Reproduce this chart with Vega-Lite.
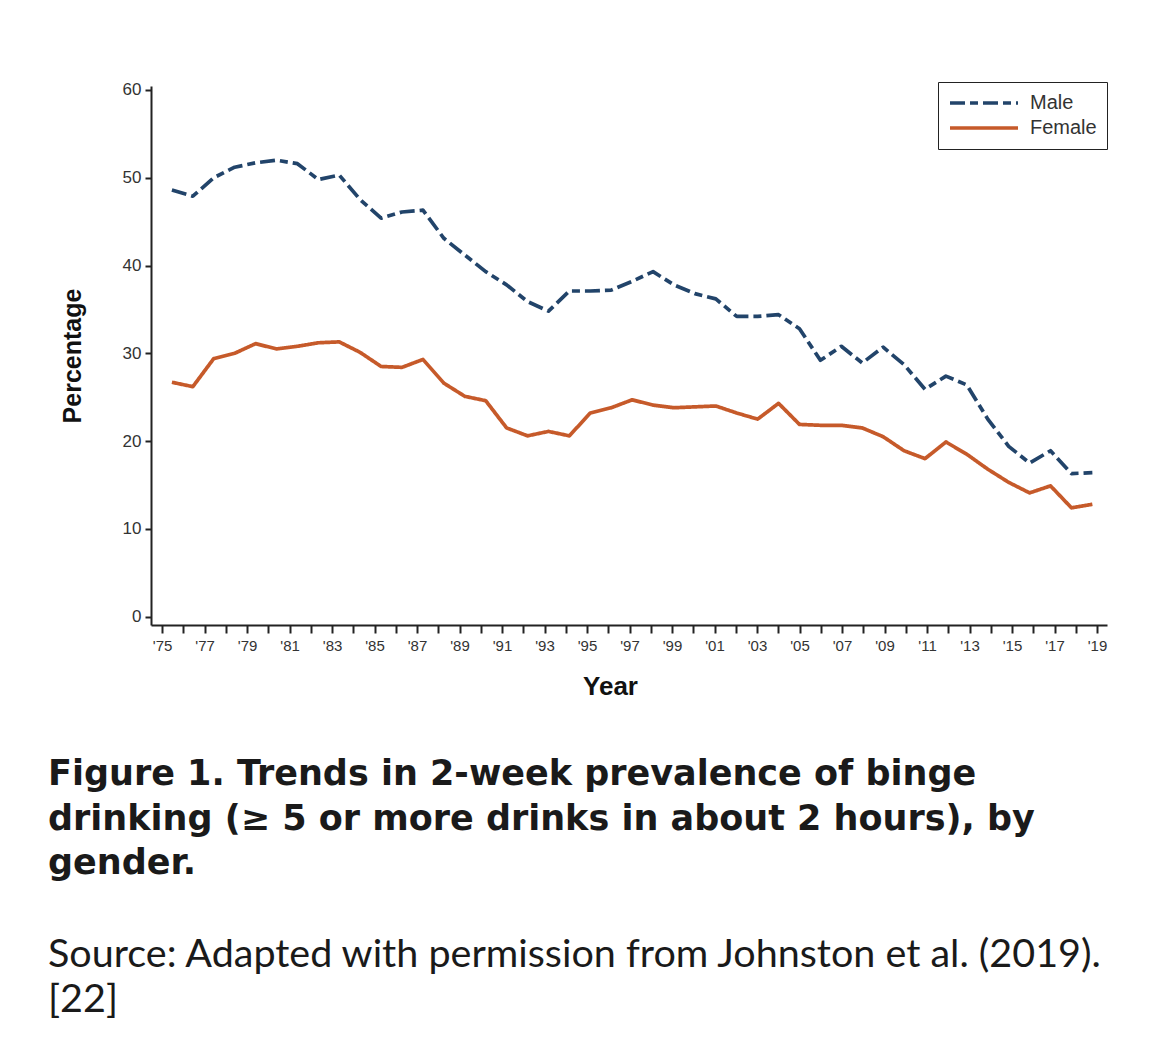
{
  "$schema": "https://vega.github.io/schema/vega-lite/v6.json",
  "width": 956,
  "height": 539,
  "autosize": {"type": "none"},
  "padding": {"left": 151, "top": 86, "right": 62, "bottom": 421},
  "background": "white",
  "config": {
    "view": {"stroke": null},
    "font": "Liberation Sans",
    "axis": {"grid": false, "domainColor": "#222", "domainWidth": 2, "tickColor": "#222", "tickWidth": 2, "labelColor": "#333", "titleColor": "#111", "titleFontWeight": "bold", "labelFont": "Liberation Sans", "titleFont": "Liberation Sans"}
  },
  "title": {
    "text": ["Figure 1. Trends in 2-week prevalence of binge", "drinking (≥ 5 or more drinks in about 2 hours), by", "gender."],
    "subtitle": ["Source: Adapted with permission from Johnston et al. (2019).", "[22]"],
    "orient": "bottom",
    "anchor": "start",
    "frame": "group",
    "dx": -103,
    "offset": 58,
    "font": "DejaVu Sans",
    "fontSize": 35,
    "fontWeight": "bold",
    "color": "#1a1a1a",
    "lineHeight": 44.5,
    "subtitleFont": "Lato",
    "subtitleFontSize": 39.5,
    "subtitleColor": "#1a1a1a",
    "subtitleLineHeight": 45,
    "subtitlePadding": 55
  },
  "data": {
    "values": [
      {"year": 1975, "gender": "Male", "pct": 48.6},
      {"year": 1976, "gender": "Male", "pct": 47.9},
      {"year": 1977, "gender": "Male", "pct": 50.0},
      {"year": 1978, "gender": "Male", "pct": 51.2},
      {"year": 1979, "gender": "Male", "pct": 51.7},
      {"year": 1980, "gender": "Male", "pct": 52.0},
      {"year": 1981, "gender": "Male", "pct": 51.6},
      {"year": 1982, "gender": "Male", "pct": 49.8},
      {"year": 1983, "gender": "Male", "pct": 50.3},
      {"year": 1984, "gender": "Male", "pct": 47.5},
      {"year": 1985, "gender": "Male", "pct": 45.4},
      {"year": 1986, "gender": "Male", "pct": 46.1},
      {"year": 1987, "gender": "Male", "pct": 46.3},
      {"year": 1988, "gender": "Male", "pct": 43.1},
      {"year": 1989, "gender": "Male", "pct": 41.2},
      {"year": 1990, "gender": "Male", "pct": 39.3},
      {"year": 1991, "gender": "Male", "pct": 37.8},
      {"year": 1992, "gender": "Male", "pct": 35.9},
      {"year": 1993, "gender": "Male", "pct": 34.8},
      {"year": 1994, "gender": "Male", "pct": 37.1},
      {"year": 1995, "gender": "Male", "pct": 37.1},
      {"year": 1996, "gender": "Male", "pct": 37.2},
      {"year": 1997, "gender": "Male", "pct": 38.2},
      {"year": 1998, "gender": "Male", "pct": 39.3},
      {"year": 1999, "gender": "Male", "pct": 37.8},
      {"year": 2000, "gender": "Male", "pct": 36.8},
      {"year": 2001, "gender": "Male", "pct": 36.2},
      {"year": 2002, "gender": "Male", "pct": 34.2},
      {"year": 2003, "gender": "Male", "pct": 34.2},
      {"year": 2004, "gender": "Male", "pct": 34.4},
      {"year": 2005, "gender": "Male", "pct": 32.8},
      {"year": 2006, "gender": "Male", "pct": 29.2},
      {"year": 2007, "gender": "Male", "pct": 30.8},
      {"year": 2008, "gender": "Male", "pct": 28.9},
      {"year": 2009, "gender": "Male", "pct": 30.7},
      {"year": 2010, "gender": "Male", "pct": 28.7},
      {"year": 2011, "gender": "Male", "pct": 25.9},
      {"year": 2012, "gender": "Male", "pct": 27.4},
      {"year": 2013, "gender": "Male", "pct": 26.4},
      {"year": 2014, "gender": "Male", "pct": 22.5},
      {"year": 2015, "gender": "Male", "pct": 19.4},
      {"year": 2016, "gender": "Male", "pct": 17.5},
      {"year": 2017, "gender": "Male", "pct": 18.9},
      {"year": 2018, "gender": "Male", "pct": 16.3},
      {"year": 2019, "gender": "Male", "pct": 16.4},
      {"year": 1975, "gender": "Female", "pct": 26.7},
      {"year": 1976, "gender": "Female", "pct": 26.2},
      {"year": 1977, "gender": "Female", "pct": 29.4},
      {"year": 1978, "gender": "Female", "pct": 30.0},
      {"year": 1979, "gender": "Female", "pct": 31.1},
      {"year": 1980, "gender": "Female", "pct": 30.5},
      {"year": 1981, "gender": "Female", "pct": 30.8},
      {"year": 1982, "gender": "Female", "pct": 31.2},
      {"year": 1983, "gender": "Female", "pct": 31.3},
      {"year": 1984, "gender": "Female", "pct": 30.1},
      {"year": 1985, "gender": "Female", "pct": 28.5},
      {"year": 1986, "gender": "Female", "pct": 28.4},
      {"year": 1987, "gender": "Female", "pct": 29.3},
      {"year": 1988, "gender": "Female", "pct": 26.6},
      {"year": 1989, "gender": "Female", "pct": 25.1},
      {"year": 1990, "gender": "Female", "pct": 24.6},
      {"year": 1991, "gender": "Female", "pct": 21.5},
      {"year": 1992, "gender": "Female", "pct": 20.6},
      {"year": 1993, "gender": "Female", "pct": 21.1},
      {"year": 1994, "gender": "Female", "pct": 20.6},
      {"year": 1995, "gender": "Female", "pct": 23.2},
      {"year": 1996, "gender": "Female", "pct": 23.8},
      {"year": 1997, "gender": "Female", "pct": 24.7},
      {"year": 1998, "gender": "Female", "pct": 24.1},
      {"year": 1999, "gender": "Female", "pct": 23.8},
      {"year": 2000, "gender": "Female", "pct": 23.9},
      {"year": 2001, "gender": "Female", "pct": 24.0},
      {"year": 2002, "gender": "Female", "pct": 23.2},
      {"year": 2003, "gender": "Female", "pct": 22.5},
      {"year": 2004, "gender": "Female", "pct": 24.3},
      {"year": 2005, "gender": "Female", "pct": 21.9},
      {"year": 2006, "gender": "Female", "pct": 21.8},
      {"year": 2007, "gender": "Female", "pct": 21.8},
      {"year": 2008, "gender": "Female", "pct": 21.5},
      {"year": 2009, "gender": "Female", "pct": 20.5},
      {"year": 2010, "gender": "Female", "pct": 18.9},
      {"year": 2011, "gender": "Female", "pct": 18.0},
      {"year": 2012, "gender": "Female", "pct": 19.9},
      {"year": 2013, "gender": "Female", "pct": 18.5},
      {"year": 2014, "gender": "Female", "pct": 16.8},
      {"year": 2015, "gender": "Female", "pct": 15.3},
      {"year": 2016, "gender": "Female", "pct": 14.1},
      {"year": 2017, "gender": "Female", "pct": 14.9},
      {"year": 2018, "gender": "Female", "pct": 12.4},
      {"year": 2019, "gender": "Female", "pct": 12.8}
    ]
  },
  "encoding": {
    "y": {
      "field": "pct",
      "type": "quantitative",
      "scale": {"domain": [-0.95, 60.45], "nice": false, "zero": false},
      "axis": {
        "title": "Percentage",
        "values": [0, 10, 20, 30, 40, 50, 60],
        "tickSize": 6,
        "labelFontSize": 17,
        "labelPadding": 4,
        "titleFontSize": 25,
        "titlePadding": 37
      }
    }
  },
  "layer": [
    {
      "mark": {"type": "line", "strokeWidth": 3.7, "strokeJoin": "round"},
      "encoding": {
        "x": {
          "field": "year",
          "type": "quantitative",
          "scale": {"domain": [1974, 2019.7], "nice": false, "zero": false},
          "axis": null
        },
        "color": {
          "field": "gender",
          "type": "nominal",
          "scale": {"domain": ["Male", "Female"], "range": ["#22446a", "#c65a2a"]},
          "legend": {
            "title": null,
            "orient": "none",
            "legendX": 787,
            "legendY": -4,
            "strokeColor": "#222",
            "padding": 10,
            "labelFont": "Liberation Sans",
            "labelFontSize": 20,
            "labelColor": "#333",
            "labelOffset": 10,
            "symbolType": "stroke",
            "symbolSize": 4624,
            "symbolStrokeWidth": 3.7,
            "clipHeight": 22,
            "rowPadding": 3,
            "fillColor": "white"
          }
        },
        "strokeDash": {
          "field": "gender",
          "type": "nominal",
          "scale": {"domain": ["Male", "Female"], "range": [[15, 5, 8, 5], [1, 0]]}
        }
      }
    },
    {
      "mark": {"type": "point", "opacity": 0},
      "encoding": {
        "x": {
          "field": "year",
          "type": "quantitative",
          "scale": {"domain": [1974.48, 2019.47], "nice": false, "zero": false},
          "axis": {
            "orient": "bottom",
            "title": "Year",
            "values": [1975, 1976, 1977, 1978, 1979, 1980, 1981, 1982, 1983, 1984, 1985, 1986, 1987, 1988, 1989, 1990, 1991, 1992, 1993, 1994, 1995, 1996, 1997, 1998, 1999, 2000, 2001, 2002, 2003, 2004, 2005, 2006, 2007, 2008, 2009, 2010, 2011, 2012, 2013, 2014, 2015, 2016, 2017, 2018, 2019],
            "labelExpr": "datum.value % 2 == 1 ? \"'\" + substring(toString(datum.value), 2) : ''",
            "tickSize": 8,
            "labelFontSize": 15,
            "labelPadding": 5,
            "labelFlush": false,
            "labelOverlap": false,
            "titleFontSize": 26,
            "titlePadding": 20,
            "titleX": 459
          }
        }
      }
    }
  ],
  "resolve": {"scale": {"x": "independent"}, "axis": {"x": "independent"}}
}
